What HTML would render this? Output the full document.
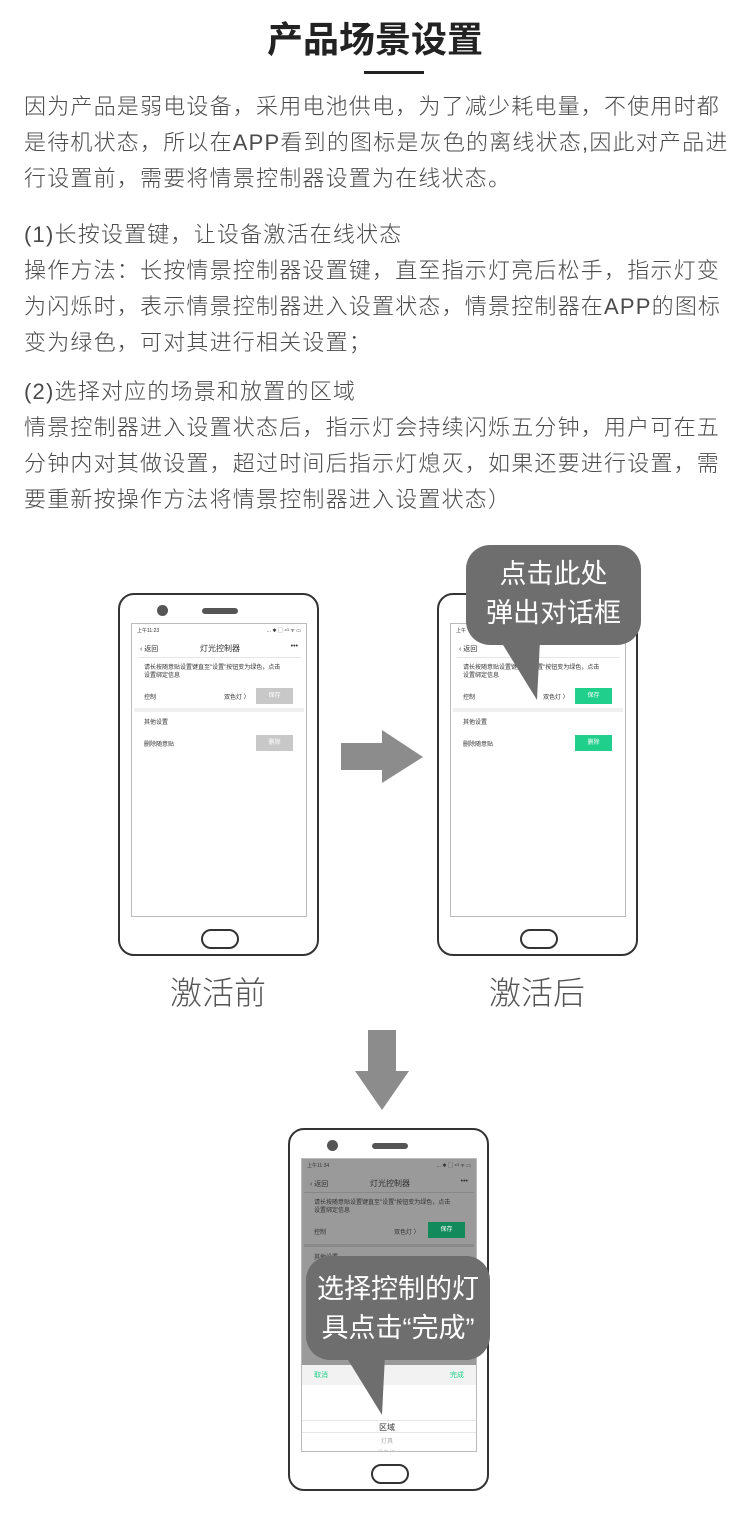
<!DOCTYPE html>
<html><head><meta charset="utf-8"><style>
*{margin:0;padding:0;box-sizing:border-box}
body{width:750px;height:1539px;background:#fff;position:relative;overflow:hidden;font-family:"Liberation Sans","Noto Sans CJK SC",sans-serif}
.a{position:absolute}
.t{left:24px;font-size:22px;color:#4a4a4a;line-height:36px;letter-spacing:1.2px;white-space:nowrap;font-weight:300}
.phone{position:absolute;width:201px;height:363px;border:2.5px solid #333;border-radius:16px;background:#fff}
.cam{position:absolute;left:37px;top:10px;width:11px;height:11px;border-radius:50%;background:#555}
.spk{position:absolute;left:82px;top:13px;width:36px;height:6px;border-radius:3px;background:#555}
.scr{position:absolute;left:11px;top:28px;width:176px;height:294px;border:1px solid #bbb;background:#fff;overflow:hidden}
.home{position:absolute;left:81px;top:334px;width:38px;height:20px;border:2px solid #333;border-radius:10px}
.s{position:absolute;font-size:7px;color:#333;white-space:nowrap}
.btn{position:absolute;width:37px;height:16px;font-size:6px;color:#fff;text-align:center;line-height:16px}
.lbl{position:absolute;font-size:32px;color:#555;font-weight:300}
</style></head><body>
<div class="a" style="left:0;width:750px;top:14px;text-align:center;font-size:36px;line-height:52px;font-weight:bold;color:#222">产品场景设置</div>
<div class="a" style="left:364px;top:71px;width:60px;height:3px;background:#222"></div>
<div class="a t" style="top:89px">因为产品是弱电设备，采用电池供电，为了减少耗电量，不使用时都<br>是待机状态，所以在APP看到的图标是灰色的离线状态,因此对产品进<br>行设置前，需要将情景控制器设置为在线状态。</div>
<div class="a t" style="top:217px">(1)长按设置键，让设备激活在线状态<br>操作方法：长按情景控制器设置键，直至指示灯亮后松手，指示灯变<br>为闪烁时，表示情景控制器进入设置状态，情景控制器在APP的图标<br>变为绿色，可对其进行相关设置；</div>
<div class="a t" style="top:374px">(2)选择对应的场景和放置的区域<br>情景控制器进入设置状态后，指示灯会持续闪烁五分钟，用户可在五<br>分钟内对其做设置，超过时间后指示灯熄灭，如果还要进行设置，需<br>要重新按操作方法将情景控制器进入设置状态）</div>

<!-- phone 1 -->
<div class="phone" style="left:118px;top:593px">
 <div class="cam"></div><div class="spk"></div>
 <div class="scr">
  <div class="s" style="left:5px;top:3px;font-size:5px">上午11:23</div><div class="s" style="right:5px;top:3px;font-size:5px">... ✱ ▢ ⁴ᴳ ᯤ ▭</div>
  <div class="s" style="left:8px;top:20px">‹ 返回</div><div class="s" style="left:68px;top:19px;font-size:8px">灯光控制器</div><div class="s" style="right:8px;top:19px">•••</div>
  <div class="a" style="left:5px;right:5px;top:33px;height:1px;background:#e6e6e6"></div>
  <div class="s" style="left:12px;top:40px;font-size:6px;line-height:8px">请长按随意贴设置键直至"设置"按钮变为绿色，点击<br>设置绑定信息</div>
  <div class="s" style="left:12px;top:68px;font-size:6px">控制</div><div class="s" style="left:92px;top:68px;font-size:6px">双色灯 〉</div>
  <div class="btn" style="left:124px;top:64px;background:#c8c8c8">保存</div>
  <div class="a" style="left:2px;right:2px;top:84px;height:4px;background:#f0f0f0"></div>
  <div class="s" style="left:12px;top:93px;font-size:6px">其他设置</div>
  <div class="s" style="left:12px;top:115px;font-size:6px">删除随意贴</div>
  <div class="btn" style="left:124px;top:111px;background:#c8c8c8">删除</div>
 </div>
 <div class="home"></div>
</div>

<!-- phone 2 -->
<div class="phone" style="left:437px;top:593px">
 <div class="cam"></div><div class="spk"></div>
 <div class="scr">
  <div class="s" style="left:5px;top:3px;font-size:5px">上午</div>
  <div class="s" style="left:8px;top:20px">‹ 返回</div>
  <div class="a" style="left:5px;right:5px;top:33px;height:1px;background:#e6e6e6"></div>
  <div class="s" style="left:12px;top:40px;font-size:6px;line-height:8px">请长按随意贴设置键直至"设置"按钮变为绿色，点击<br>设置绑定信息</div>
  <div class="s" style="left:12px;top:68px;font-size:6px">控制</div><div class="s" style="left:92px;top:68px;font-size:6px">双色灯 〉</div>
  <div class="btn" style="left:124px;top:64px;background:#1fcf8b">保存</div>
  <div class="a" style="left:2px;right:2px;top:84px;height:4px;background:#f0f0f0"></div>
  <div class="s" style="left:12px;top:93px;font-size:6px">其他设置</div>
  <div class="s" style="left:12px;top:115px;font-size:6px">删除随意贴</div>
  <div class="btn" style="left:124px;top:111px;background:#1fcf8b">删除</div>
 </div>
 <div class="home"></div>
</div>

<svg class="a" style="left:0;top:0" width="750" height="1539">
 <rect x="466" y="545" width="175" height="100" rx="24" fill="#6e6e6e"/>
 <polygon points="500,640 540,640 537,700" fill="#6e6e6e"/>
 <polygon points="341,743 382,743 382,730 423,757 382,783 382,770 341,770" fill="#8c8c8c"/>
 <polygon points="368,1030 396,1030 396,1071 409,1071 382,1110 355,1071 368,1071" fill="#8c8c8c"/>
</svg>
<div class="a" style="left:466px;top:555px;width:175px;text-align:center;font-size:27px;line-height:39px;color:#fff">点击此处<br>弹出对话框</div>

<div class="lbl" style="left:170px;top:968px">激活前</div>
<div class="lbl" style="left:489px;top:968px">激活后</div>

<!-- phone 3 -->
<div class="phone" style="left:288px;top:1128px">
 <div class="cam"></div><div class="spk"></div>
 <div class="scr">
  <div class="a" style="left:0;top:0;width:176px;height:206px;background:#9a9a9a"></div>
  <div class="s" style="left:5px;top:3px;font-size:5px">上午11:34</div><div class="s" style="right:5px;top:3px;font-size:5px">... ✱ ▢ ⁴ᴳ ᯤ ▭</div>
  <div class="s" style="left:8px;top:20px">‹ 返回</div><div class="s" style="left:68px;top:19px;font-size:8px">灯光控制器</div><div class="s" style="right:8px;top:19px">•••</div>
  <div class="a" style="left:2px;right:2px;top:33px;height:1px;background:#888"></div>
  <div class="s" style="left:12px;top:40px;font-size:6px;line-height:8px">请长按随意贴设置键直至"设置"按钮变为绿色，点击<br>设置绑定信息</div>
  <div class="s" style="left:12px;top:68px;font-size:6px">控制</div><div class="s" style="left:92px;top:68px;font-size:6px">双色灯 〉</div>
  <div class="btn" style="left:126px;top:63px;background:#138a5c">保存</div>
  <div class="a" style="left:2px;right:2px;top:85px;height:3px;background:#8a8a8a"></div>
  <div class="s" style="left:12px;top:93px;font-size:6px">其他设置</div>
  <div class="a" style="left:0;top:206px;width:176px;height:20px;background:#f2f2f2"></div>
  <div class="s" style="left:12px;top:211px;font-size:7px;color:#1fcf8b">取消</div><div class="s" style="right:12px;top:211px;font-size:7px;color:#1fcf8b">完成</div>
  <div class="a" style="left:0;top:261px;width:176px;height:1px;background:#e6e6e6"></div>
  <div class="a" style="left:0;top:273px;width:176px;height:1px;background:#e6e6e6"></div>
  <div class="s" style="left:77px;top:263px;font-size:8px">区域</div>
  <div class="s" style="left:79px;top:277px;font-size:6px;color:#aaa">灯具</div>
  <div class="s" style="left:75px;top:289px;font-size:6px;color:#bbb">设备组</div>
 </div>
 <div class="home"></div>
</div>
<svg class="a" style="left:0;top:0" width="750" height="1539">
 <rect x="306" y="1256" width="184" height="104" rx="24" fill="#6e6e6e"/>
 <polygon points="345,1355 385,1355 382,1415" fill="#6e6e6e"/>
</svg>
<div class="a" style="left:306px;top:1270px;width:184px;text-align:center;font-size:27px;line-height:39px;color:#fff;white-space:nowrap">选择控制的灯<br>具点击“完成”</div>
</body></html>
